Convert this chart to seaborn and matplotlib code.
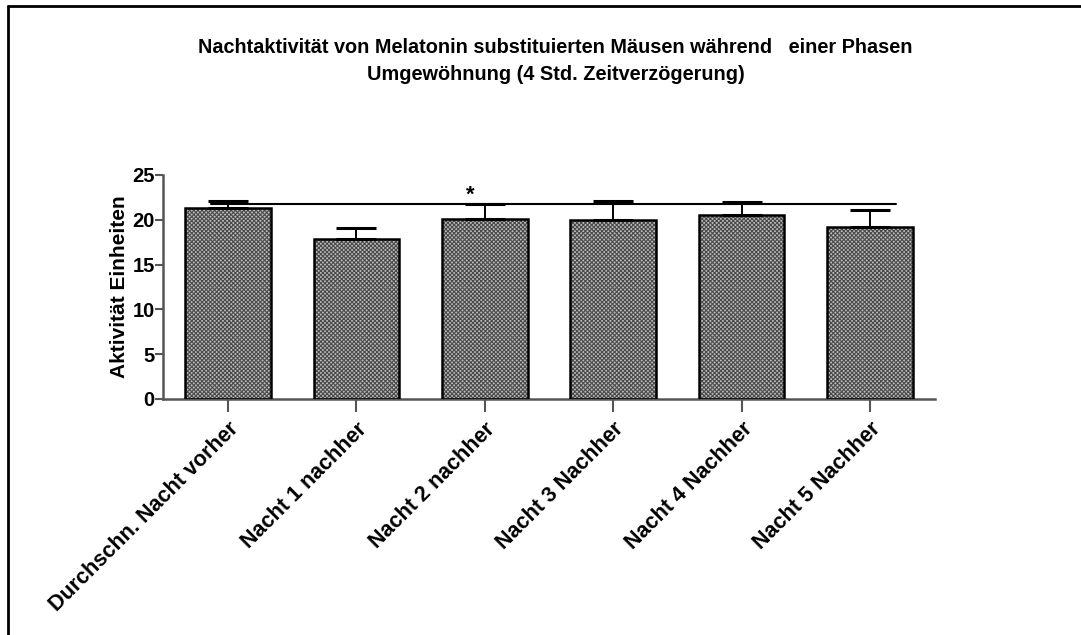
import numpy as np
import pandas as pd
import matplotlib
matplotlib.use("Agg")
import matplotlib.pyplot as plt
import seaborn as sns
from matplotlib.lines import Line2D

categories = ["Durchschn. Nacht vorher", "Nacht 1 nachher", "Nacht 2 nachher",
              "Nacht 3 Nachher", "Nacht 4 Nachher", "Nacht 5 Nachher"]
means = [21.3, 17.9, 20.06, 19.95, 20.58, 19.24]
sem = [0.76, 1.2, 1.7, 2.15, 1.45, 1.86]
ref_level = 21.73
y_ticks = [0, 5, 10, 15, 20, 25]

sns.set_theme(style="white")
plt.rcParams["font.family"] = ["Liberation Sans", "DejaVu Sans"]
plt.rcParams["text.color"] = "black"
plt.rcParams["axes.labelcolor"] = "black"
plt.rcParams["xtick.color"] = "black"
plt.rcParams["ytick.color"] = "black"
plt.rcParams["hatch.linewidth"] = 0.8

fig = plt.figure(figsize=(10.81, 6.35), dpi=100)
ax = fig.add_axes([0.1508, 0.3717, 0.7142, 0.3528])

df = pd.DataFrame({"Gruppe": categories, "Aktivitaet": means})
sns.barplot(data=df, x="Gruppe", y="Aktivitaet", ax=ax, width=0.667,
            color="#bdbdbd", errorbar=None, saturation=1)
for p in ax.patches:
    p.set_hatch("xxxxxxxx")
    p.set_edgecolor("#4a4a4a")
    p.set_linewidth(0)
# black outline on top of the textured fill
ax.bar(range(len(means)), means, width=0.667, fill=False,
       edgecolor="black", linewidth=1.8, zorder=3)

ax.errorbar(range(len(means)), means, yerr=[np.zeros(len(sem)), sem],
            fmt="none", ecolor="black", elinewidth=1.4, capsize=14.5,
            capthick=2.2, zorder=2)

# significance reference line and marker
ax.plot([-0.13, 5.2], [ref_level, ref_level], color="black", lw=1.5, zorder=4)
ax.text(1.89, 21.6, "*", ha="center", va="bottom", fontsize=16,
        fontweight="bold", color="black")

ax.set_xlim(-0.506, 5.506)
ax.set_ylim(0, 25)
ax.set_yticks(y_ticks)
ax.set_yticklabels([str(t) for t in y_ticks], fontsize=14.5, fontweight="bold")
ax.set_xticks(range(len(categories)))
ax.set_xticklabels(categories, rotation=45, ha="right", rotation_mode="anchor",
                   fontsize=15.5, fontweight="bold")
ax.set_xlabel("")
ax.set_ylabel("Aktivität Einheiten", fontsize=15, fontweight="bold",
              labelpad=2)

sns.despine(ax=ax)
for s in ["left", "bottom"]:
    ax.spines[s].set_color("#555555")
    ax.spines[s].set_linewidth(1.8)
ax.tick_params(axis="y", direction="out", length=6, width=1.5, color="#555555",
               pad=0, left=True)
ax.tick_params(axis="x", direction="out", length=9, width=1.5, color="#555555",
               pad=5, bottom=True)

fig.text(0.514, 0.925, "Nachtaktivität von Melatonin substituierten Mäusen während   einer Phasen",
         ha="center", va="center", fontsize=14.3, fontweight="bold")
fig.text(0.514, 0.882, "Umgewöhnung (4 Std. Zeitverzögerung)",
         ha="center", va="center", fontsize=14.3, fontweight="bold")

# open frame along the top and left edges
fig.add_artist(Line2D([8 / 1081, 8 / 1081], [0, 1 - 6 / 635],
                      transform=fig.transFigure, color="black", lw=2))
fig.add_artist(Line2D([8 / 1081, 1], [1 - 6 / 635, 1 - 6 / 635],
                      transform=fig.transFigure, color="black", lw=2))

fig.savefig("out.png", dpi=100)
